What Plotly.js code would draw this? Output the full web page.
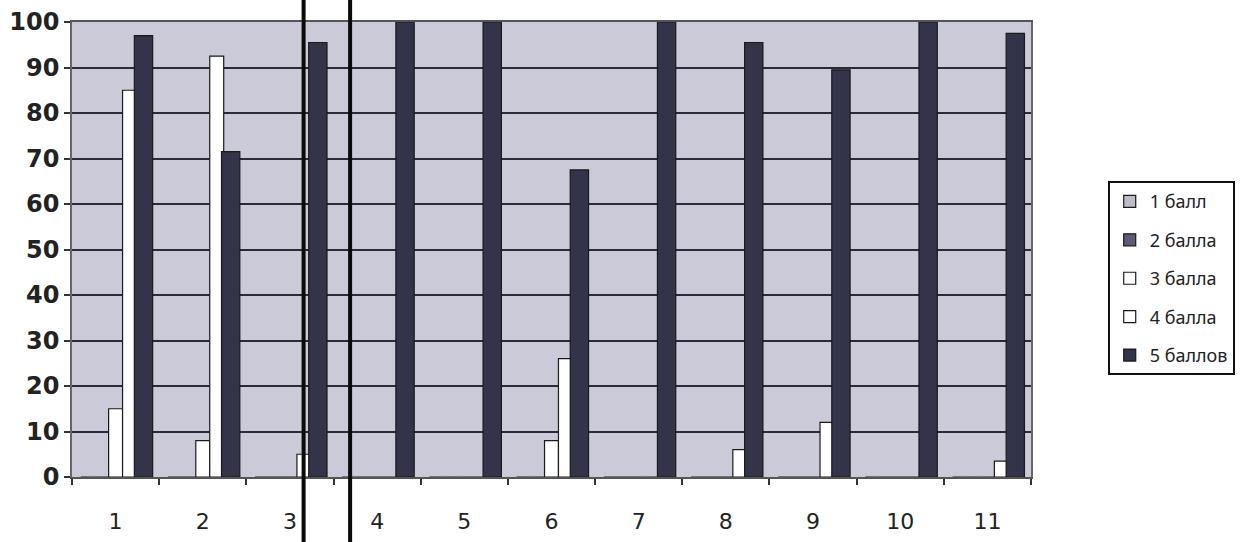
<!DOCTYPE html>
<html><head><meta charset="utf-8">
<script src="https://cdn.plot.ly/plotly-3.0.1.min.js"></script>
<style>html,body{margin:0;padding:0;background:#fff}</style>
</head><body><div id="chart" style="width:1242px;height:542px"></div>
<script>
const categories = ['1','2','3','4','5','6','7','8','9','10','11'];
const seriesNames = ['1 балл','2 балла','3 балла','4 балла','5 баллов'];
const ball1 = [0,0,0,0,0,0,0,0,0,0,0];
const ball2 = [0,0,0,0,0,0,0,0,0,0,0];
const ball3 = [15,8,0,0,0,8,0,0,0,0,0];
const ball4 = [85,92.5,5,0,0,26,0,6,12,0,3.5];
const ball5 = [97,71.5,95.5,100,100,67.5,100,95.5,89.5,100,97.5];
const yTicks = [0,10,20,30,40,50,60,70,80,90,100];

const colors = ['#bdbdc8','#5c5c74','#ffffff','#ffffff','#33334a'];
const widths = [null,null,null,null,0.21];
const values = [ball1,ball2,ball3,ball4,ball5];
const traces = values.map((v,i)=>{
  const t = {
    type:'bar', x:categories, y:v, name:seriesNames[i],
    legendgroup:'g'+i,
    marker:{color:colors[i], line:{color:'#1a1a1a', width:1.2}}
  };
  if (widths[i]) t.width = widths[i];
  return t;
});

const layout = {
  width:1242, height:542,
  margin:{l:72, r:211, t:22, b:65, autoexpand:false},
  paper_bgcolor:'#ffffff',
  plot_bgcolor:'#cacad8',
  barmode:'group', bargap:0.2, bargroupgap:0,
  font:{family:'DejaVu Sans, sans-serif', color:'#1e1e1e'},
  xaxis:{
    type:'category', tickson:'boundaries', ticks:'outside', ticklen:6, tickwidth:1.5, tickcolor:'#333',
    showline:true, linecolor:'#555', linewidth:1.5, mirror:true,
    tickfont:{size:22, color:'#222'}, showgrid:false, ticklabelstandoff:24
  },
  yaxis:{
    range:[0,100], tickvals:yTicks, ticks:'outside', ticklen:6, tickwidth:1.5, tickcolor:'#333',
    showline:true, linecolor:'#666', linewidth:1.5, mirror:true,
    gridcolor:'#2a2a3a', gridwidth:2, zeroline:false,
    tickfont:{size:24, color:'#222', weight:'bold'}
  },
  legend:{
    x:1.080, xanchor:'left', y:0.65, yanchor:'top',
    bordercolor:'#111', borderwidth:2, bgcolor:'#ffffff',
    itemwidth:30,
    font:{size:18, color:'#222', family:'Noto Sans, sans-serif'}, traceorder:'grouped', tracegroupgap:12
  },
  shapes:[
    {type:'line', xref:'paper', yref:'paper', x0:0.2415, x1:0.2415, y0:-0.2, y1:1.1, line:{color:'#0a0a0a', width:4}},
    {type:'line', xref:'paper', yref:'paper', x0:0.2900, x1:0.2900, y0:-0.2, y1:1.1, line:{color:'#0a0a0a', width:4}}
  ]
};
Plotly.newPlot('chart', traces, layout, {displayModeBar:false});
</script></body></html>
